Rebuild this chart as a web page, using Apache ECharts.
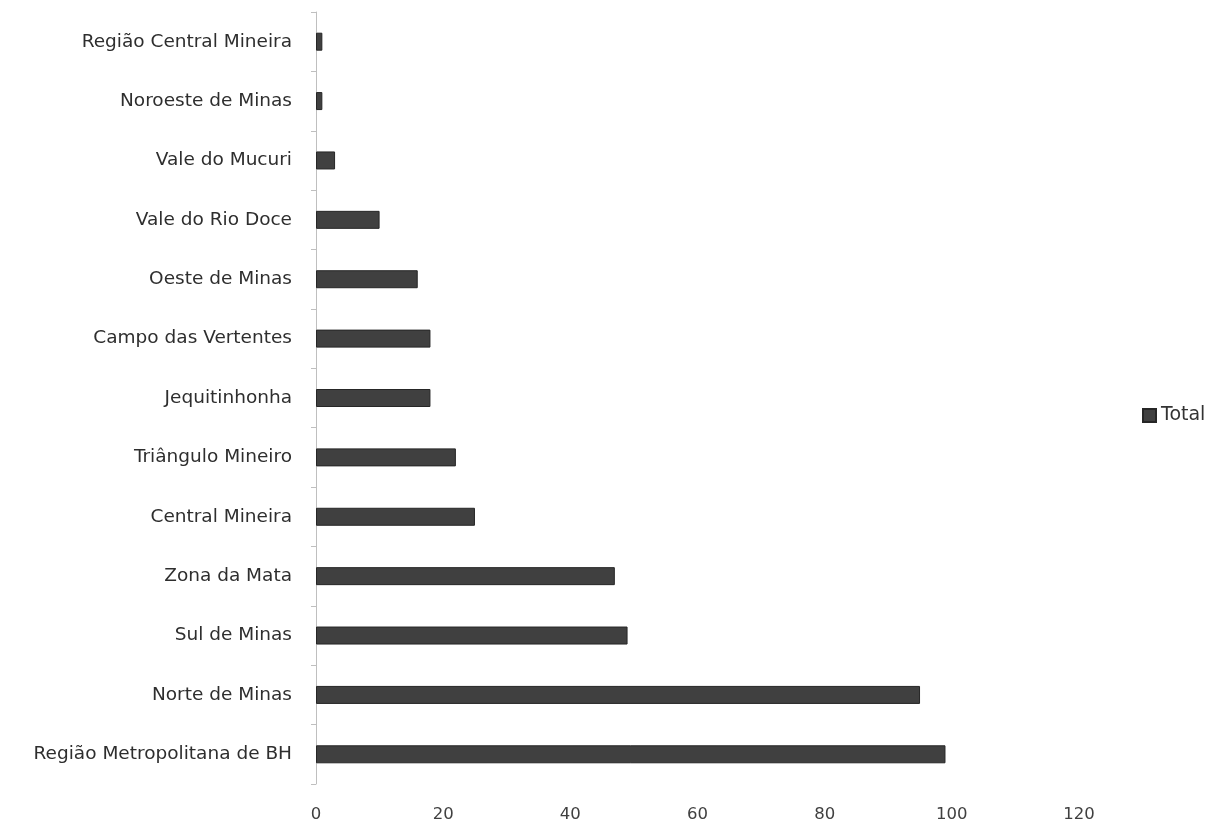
<!DOCTYPE html>
<html><head><meta charset="utf-8">
<script src="https://cdn.jsdelivr.net/npm/echarts@6/dist/echarts.min.js"></script>
<style>html,body{margin:0;padding:0;background:#fff}#c{width:1215px;height:825px}</style>
</head><body><div id="c"></div>
<script>
const categories = ["Região Metropolitana de BH","Norte de Minas","Sul de Minas","Zona da Mata","Central Mineira","Triângulo Mineiro","Jequitinhonha","Campo das Vertentes","Oeste de Minas","Vale do Rio Doce","Vale do Mucuri","Noroeste de Minas","Região Central Mineira"];
const totals = [99,95,49,47,25,22,18,18,16,10,3,1,1];
const xTicks = [0,20,40,60,80,100,120];
const seriesName = "Total";

const chart = echarts.init(document.getElementById('c'));
chart.setOption({
  animation:false,
  backgroundColor:'#ffffff',
  textStyle:{fontFamily:'DejaVu Sans'},
  legend:{data:[seriesName],orient:'vertical',left:1137,top:401,padding:5,itemWidth:13,itemHeight:13,itemGap:4,
    textStyle:{color:'#333333',fontSize:19,fontFamily:'DejaVu Sans'},icon:'rect'},
  grid:{left:316,right:136,top:12,bottom:41,containLabel:false},
  xAxis:{type:'value',min:xTicks[0],max:xTicks[xTicks.length-1],interval:20,
    axisLine:{show:false},axisTick:{show:false},splitLine:{show:false},
    axisLabel:{color:'#404040',fontSize:16.5,margin:22,fontFamily:'DejaVu Sans'}},
  yAxis:{type:'category',data:categories,
    axisLine:{show:true,lineStyle:{color:'#bfbfbf',width:1}},
    axisTick:{show:true,length:5,lineStyle:{color:'#bfbfbf'}},
    axisLabel:{color:'#2e2e2e',fontSize:18.5,margin:24,fontFamily:'DejaVu Sans'}},
  series:[{name:seriesName,type:'bar',data:totals,barWidth:18,
    itemStyle:{color:'#404040',borderColor:'#262626',borderWidth:1}}]
});
</script></body></html>
